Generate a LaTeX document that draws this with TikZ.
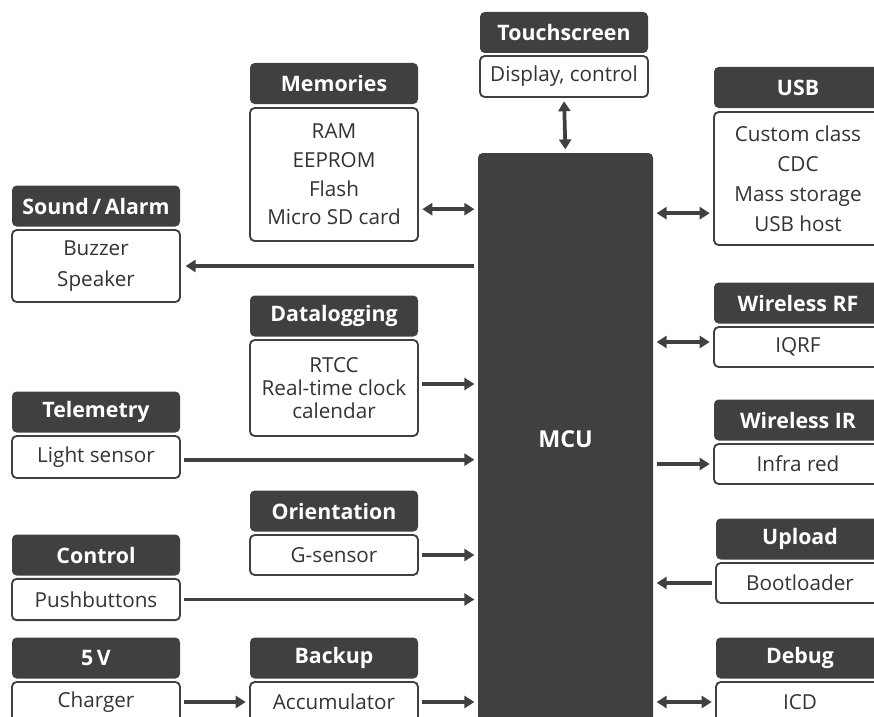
\documentclass[tikz,border=0pt]{standalone}
\usepackage{fontspec}
\setmainfont{Open Sans}
\usetikzlibrary{positioning,arrows.meta}
\definecolor{dark}{HTML}{404040}
\definecolor{ink}{HTML}{333333}

\begin{document}
\begin{tikzpicture}[x=0.75pt, y=-0.75pt,
    head/.style={rectangle, rounded corners=3.5pt, fill=dark, text=white, minimum width=126pt, minimum height=30.75pt, inner sep=0pt, font=\fontsize{16}{18}\selectfont\bfseries},
    body/.style={rectangle, rounded corners=3.5pt, draw=dark, line width=1.4pt, fill=white, text=ink, minimum width=126pt, minimum height=30pt, inner sep=0pt, align=center, font=\fontsize{15.5}{21.5}\selectfont},
    link/.style={draw=dark, line width=2.8pt, shorten <=2.5pt, shorten >=2.5pt, -{Triangle[length=7.5pt,width=9pt]}},
    both/.style={link, {Triangle[length=7.5pt,width=9pt]}-{Triangle[length=7.5pt,width=9pt]}}]
    \path[use as bounding box, clip] (0,0) rectangle (874,717);

    % MCU in the middle
    \node[rectangle, rounded corners=3.5pt, fill=dark, text=white, minimum width=131.25pt, minimum height=429pt, font=\fontsize{17.5}{20}\selectfont\bfseries] (mcu) at (565.5,439) {MCU};

    % Top
    \node[head] (touchH) at (564,32.5) {Touchscreen};
    \node[body, minimum height=30.75pt] (touch) at (564,76.5) {Display, control};

    % Left column
    \node[head] (soundH) at (96,206) {Sound\,/\,Alarm};
    \node[body, minimum height=54pt, font=\fontsize{15.5}{23}\selectfont] (sound) at (96,266) {Buzzer\\Speaker};
    \node[head] (teleH) at (96,412) {Telemetry};
    \node[body, minimum height=31.5pt] (tele) at (96,457) {Light sensor};
    \node[head] (ctrlH) at (96,555) {Control};
    \node[body, minimum height=31pt] (ctrl) at (96,599.5) {Pushbuttons};
    \node[head] (fiveH) at (96,658) {5\,V};
    \node[body] (five) at (96,702) {Charger};

    % Middle column
    \node[head] (memH) at (334,83.5) {Memories};
    \node[body, minimum height=99.75pt] (mem) at (334,174.5) {RAM\\EEPROM\\Flash\\Micro SD card};
    \node[head] (logH) at (334,316) {Datalogging};
    \node[body, minimum height=72pt, font=\fontsize{15.5}{17.25}\selectfont] (log) at (334,388) {RTCC\\Real-time clock\\calendar};
    \node[head] (orientH) at (334,511) {Orientation};
    \node[body] (orient) at (334,555) {G-sensor};
    \node[head] (backH) at (334,658) {Backup};
    \node[body] (back) at (334,702) {Accumulator};

    % Right column
    \node[head] (usbH) at (798,87.5) {USB};
    \node[body, minimum height=99.75pt, font=\fontsize{15.5}{22.5}\selectfont] (usb) at (798,178.5) {Custom class\\CDC\\Mass storage\\USB host};
    \node[head] (rfH) at (798,303) {Wireless RF};
    \node[body] (rf) at (798,347) {IQRF};
    \node[head] (irH) at (798,420) {Wireless IR};
    \node[body] (ir) at (798,464) {Infra red};
    \node[head] (upH) at (800,539) {Upload};
    \node[body] (up) at (800,583) {Bootloader};
    \node[head] (dbgH) at (800,658) {Debug};
    \node[body] (dbg) at (800,702) {ICD};

    % Links to the MCU
    \draw[both] (touch.south) -- (mcu.north);
    \draw[both] ([yshift=-26pt]mem.east) -- ([yshift=-26pt]mem.east -| mcu.west);
    \draw[both] ([yshift=-26pt]usb.west) -- ([yshift=-26pt]usb.west -| mcu.east);
    \draw[link, shorten >=3.5pt] (mcu.west |- sound.east) -- (sound.east);
    \draw[link] ([yshift=3pt]log.east) -- ([yshift=3pt]log.east -| mcu.west);
    \draw[link] ([yshift=-2pt]tele.east) -- ([yshift=-2pt]tele.east -| mcu.west);
    \draw[link] (orient.east) -- (orient.east -| mcu.west);
    \draw[link] (ctrl.east) -- (ctrl.east -| mcu.west);
    \draw[link] (five.east) -- (back.west);
    \draw[link] (back.east) -- (back.east -| mcu.west);
    \draw[both] ([yshift=3.75pt]rf.west) -- ([yshift=3.75pt]rf.west -| mcu.east);
    \draw[link] (mcu.east |- ir.west) -- (ir.west);
    \draw[link] (up.west) -- (up.west -| mcu.east);
    \draw[both] (dbg.west) -- (dbg.west -| mcu.east);
\end{tikzpicture}
\end{document}
